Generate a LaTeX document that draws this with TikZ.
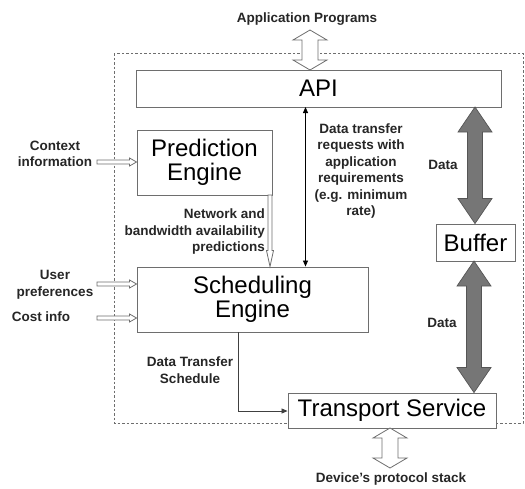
\documentclass[tikz,border=0pt]{standalone}
\usepackage{fontspec}
\setmainfont{Liberation Sans}
\usetikzlibrary{arrows.meta,calc}

\definecolor{boxline}{RGB}{110,110,110}
\definecolor{fatfill}{RGB}{118,118,118}
\definecolor{fatline}{RGB}{85,85,85}

% vertical double-headed block arrow between two named points
% #1 top, #2 bottom, #3 half shaft, #4 half head, #5 head length, #6 style
\newcommand\vdblock[6]{%
  \path[#6] let \p1=(#1), \p2=(#2) in
    (\x1,\y1) -- (\x1+#4,\y1-#5) -- (\x1+#3,\y1-#5) -- (\x1+#3,\y2+#5)
    -- (\x1+#4,\y2+#5) -- (\x1,\y2) -- (\x1-#4,\y2+#5) -- (\x1-#3,\y2+#5)
    -- (\x1-#3,\y1-#5) -- (\x1-#4,\y1-#5) -- cycle;}
% horizontal single-headed hollow arrow, #1 tail, #2 tip
\newcommand\hblock[2]{%
  \path[hollow] let \p1=(#1), \p2=(#2) in
    (\x1,\y2-2pt) -- (\x2-7pt,\y2-2pt) -- (\x2-7pt,\y2-4pt) -- (\x2,\y2)
    -- (\x2-7pt,\y2+4pt) -- (\x2-7pt,\y2+2pt) -- (\x1,\y2+2pt) -- cycle;}
% vertical single-headed hollow arrow, #1 tail (top), #2 tip (bottom)
\newcommand\vblock[2]{%
  \path[hollow] let \p1=(#1), \p2=(#2) in
    (\x1-2pt,\y1) -- (\x1-2pt,\y2+16pt) -- (\x1-3.5pt,\y2+16pt) -- (\x1,\y2)
    -- (\x1+3.5pt,\y2+16pt) -- (\x1+2pt,\y2+16pt) -- (\x1+2pt,\y1) -- cycle;}

\tikzset{
  comp/.style={draw=boxline, line width=0.9pt, fill=white, inner sep=0pt,
    font=\fontsize{24}{26}\selectfont, align=center},
  lbl/.style={font=\bfseries\fontsize{13.5}{16.5}\selectfont, inner sep=0pt,
    text=black!85},
  hollow/.style={draw=boxline, line width=0.8pt, fill=white},
  fat/.style={draw=fatline, line width=0.7pt, fill=fatfill},
  thin/.style={black, line width=0.8pt, -{Triangle[length=6pt,width=5pt]}},
}

\begin{document}
\begin{tikzpicture}[x=1pt,y=-1pt]
\useasboundingbox (0,0) rectangle (525,488);

% system boundary
\draw[boxline, dashed, dash pattern=on 2.5pt off 2pt, line width=0.7pt]
  (114,53) rectangle (523,423);

% components
\node[comp, minimum width=365pt, minimum height=37pt] (api) at (318.5,88.5) {API};
\node[comp, minimum width=135pt, minimum height=65pt] (pred) at (204.5,162.5)
  {Prediction\\[-2pt]Engine};
\node[comp, minimum width=231pt, minimum height=65pt] (sched) at (252.5,299.5)
  {Scheduling\\[-2pt]Engine};
\node[comp, minimum width=79pt, minimum height=37pt] (buf) at (475.5,242.5) {Buffer};
\node[comp, minimum width=208pt, minimum height=35pt] (trans) at (392,410.5)
  {Transport Service};

% labels
\node[lbl] (app) at (307,19) {Application Programs};
\node[lbl] (dev) at (391,479) {Device’s protocol stack};
\node[lbl, align=center] (ctx) at (55,154) {Context\\information};
\node[lbl, align=center] (user) at (55,285) {User\\preferences};
\node[lbl] (cost) at (41,317) {Cost info};
\node[lbl, align=right, anchor=east] (net) at (265,232)
  {Network and\\bandwidth availability\\predictions};
\node[lbl, align=center] (req) at (361,171)
  {Data transfer\\requests with\\application\\requirements\\(e.g. minimum\\rate)};
\node[lbl, align=center] (sch) at (190,370) {Data Transfer\\Schedule};
\node[lbl] (d1) at (443,165) {Data};
\node[lbl] (d2) at (442,323) {Data};

% anchor points for the connectors
\coordinate (appb) at (310,30);
\coordinate (apit) at (310,70);
\coordinate (transb) at (390,428);
\coordinate (devt) at (390,468);
\coordinate (ctxa) at (97,162);
\coordinate (usera) at (97,284);
\coordinate (costa) at (97,318);
\coordinate (ctxt) at (ctxa -| pred.west);
\coordinate (usert) at (usera -| sched.west);
\coordinate (costt) at (costa -| sched.west);
\coordinate (predb) at (270,195);
\coordinate (schedt) at (predb |- sched.north);
\coordinate (reqa) at (305.5,107);
\coordinate (reqb) at (reqa |- sched.north);
\coordinate (fat1a) at (475,107);
\coordinate (fat1b) at (fat1a |- buf.north);
\coordinate (fat2a) at (474,261);
\coordinate (fat2b) at (fat2a |- trans.north);
\coordinate (elbowa) at (238,332);
\coordinate (elbowb) at (238,411);

% hollow arrows
\vdblock{appb}{apit}{8pt}{17pt}{10pt}{hollow}
\vdblock{transb}{devt}{8pt}{17pt}{10pt}{hollow}
\hblock{ctxa}{ctxt}
\hblock{usera}{usert}
\hblock{costa}{costt}
\vblock{predb}{schedt}

% bulk data paths
\vdblock{fat1a}{fat1b}{7.5pt}{17pt}{25pt}{fat}
\vdblock{fat2a}{fat2b}{7.5pt}{17pt}{25pt}{fat}

% control connectors
\draw[thin, {Triangle[length=6pt,width=5pt]}-{Triangle[length=6pt,width=5pt]}]
  (reqa) -- (reqb);
\draw[thin, draw=black!75] (elbowa) -- (elbowb) -- (elbowb -| trans.west);
\end{tikzpicture}
\end{document}
